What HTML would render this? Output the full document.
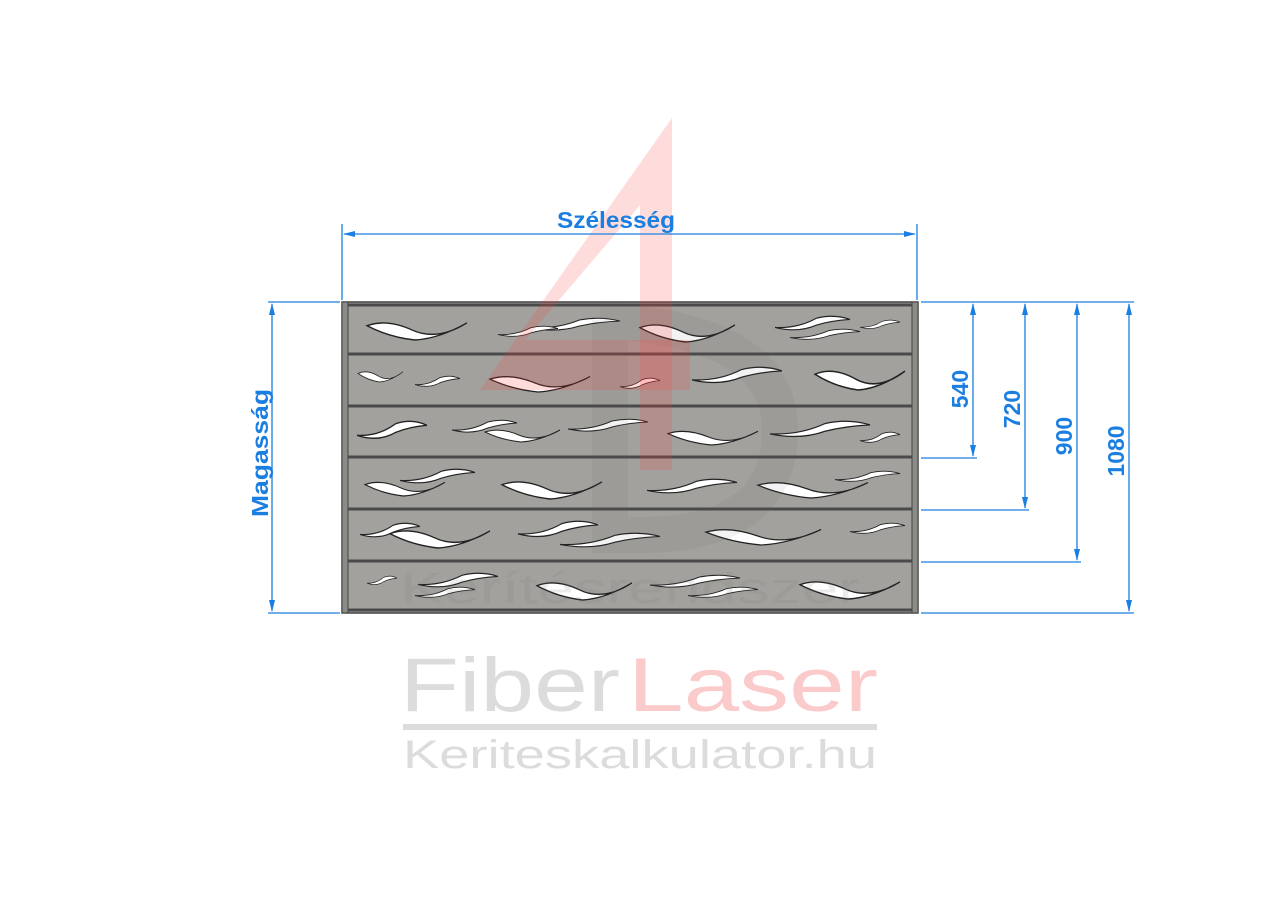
<!DOCTYPE html>
<html><head><meta charset="utf-8"><style>
html,body{margin:0;padding:0;background:#fff;}
svg{display:block;}
</style></head><body>
<svg width="1280" height="905" viewBox="0 0 1280 905" xmlns="http://www.w3.org/2000/svg">
<defs>
<symbol id="w" viewBox="0 0 100 14" overflow="visible" preserveAspectRatio="none">
<path d="M0,4 Q20,-1 45,7 Q70,15 100,2 Q72,13 48,14 Q22,12 0,4Z" fill="#fff" stroke="#222" stroke-width="1"/>
</symbol>
<symbol id="v" viewBox="0 0 100 14" overflow="visible" preserveAspectRatio="none">
<path d="M0,10 Q30,11 55,2 Q78,-2 100,3 Q75,4 55,8 Q30,15 0,10Z" fill="#fff" stroke="#222" stroke-width="1"/>
</symbol>
</defs>
<!-- panel -->
<rect x="342" y="302" width="576" height="311" fill="#a3a19d" stroke="#444" stroke-width="1.5"/>
<rect x="342" y="302" width="6" height="311" fill="#8d8b87" stroke="#444" stroke-width="1"/>
<rect x="912" y="302" width="6" height="311" fill="#8d8b87" stroke="#444" stroke-width="1"/>
<g stroke="#4a4a4a" stroke-width="3">
<line x1="348" y1="354" x2="912" y2="354"/><line x1="348" y1="406" x2="912" y2="406"/>
<line x1="348" y1="457" x2="912" y2="457"/><line x1="348" y1="509" x2="912" y2="509"/>
<line x1="348" y1="561" x2="912" y2="561"/><line x1="348" y1="305" x2="912" y2="305"/>
<line x1="348" y1="610" x2="912" y2="610"/>
</g>
<!-- row1 -->
<use href="#w" x="367" y="320" width="100" height="20"/>
<use href="#v" x="530" y="318" width="90" height="14"/>
<use href="#v" x="498" y="326" width="60" height="12"/>
<use href="#w" x="640" y="322" width="95" height="20"/>
<use href="#v" x="775" y="316" width="75" height="16"/>
<use href="#v" x="860" y="320" width="40" height="10"/>
<use href="#v" x="790" y="329" width="70" height="12"/>
<!-- row2 -->
<use href="#w" x="358" y="370" width="45" height="12"/>
<use href="#v" x="415" y="376" width="45" height="12"/>
<use href="#w" x="490" y="374" width="100" height="18"/>
<use href="#v" x="620" y="378" width="40" height="12"/>
<use href="#v" x="692" y="367" width="90" height="18"/>
<use href="#w" x="815" y="368" width="90" height="22"/>
<!-- row3 -->
<use href="#v" x="357" y="421" width="70" height="20"/>
<use href="#v" x="452" y="420" width="65" height="14"/>
<use href="#w" x="485" y="428" width="75" height="14"/>
<use href="#v" x="568" y="419" width="80" height="14"/>
<use href="#w" x="668" y="429" width="90" height="16"/>
<use href="#v" x="770" y="421" width="100" height="18"/>
<use href="#v" x="860" y="432" width="40" height="12"/>
<!-- row4 -->
<use href="#w" x="365" y="480" width="80" height="16"/>
<use href="#v" x="400" y="469" width="75" height="16"/>
<use href="#w" x="502" y="479" width="100" height="20"/>
<use href="#v" x="647" y="479" width="90" height="16"/>
<use href="#w" x="758" y="480" width="110" height="18"/>
<use href="#v" x="835" y="471" width="65" height="12"/>
<!-- row5 -->
<use href="#v" x="360" y="523" width="60" height="16"/>
<use href="#w" x="390" y="528" width="100" height="20"/>
<use href="#v" x="518" y="521" width="80" height="18"/>
<use href="#v" x="560" y="533" width="100" height="16"/>
<use href="#w" x="706" y="527" width="115" height="18"/>
<use href="#v" x="850" y="523" width="55" height="12"/>
<!-- row6 -->
<use href="#v" x="367" y="576" width="30" height="10"/>
<use href="#v" x="418" y="573" width="80" height="16"/>
<use href="#v" x="415" y="587" width="60" height="12"/>
<use href="#w" x="537" y="580" width="95" height="20"/>
<use href="#v" x="650" y="575" width="90" height="14"/>
<use href="#v" x="688" y="587" width="70" height="12"/>
<use href="#w" x="800" y="579" width="100" height="20"/>
<!-- watermark 4 & D -->
<path d="M600,320 Q780,330 780,430 Q780,535 640,535 L610,535 L610,320Z" fill="none" stroke="rgba(90,90,90,0.08)" stroke-width="36"/>
<path d="M672,118 L672,470 L640,470 L640,390 L480,390 L672,118Z M640,205 L525,340 L640,340Z" fill="rgba(255,60,60,0.18)" fill-rule="evenodd"/>
<path d="M640,340 L690,340 L690,390 L640,390Z" fill="rgba(255,60,60,0.18)"/>
<text x="400" y="603" font-family="Liberation Sans, sans-serif" font-size="44" fill="rgba(120,120,120,0.15)" textLength="460" lengthAdjust="spacingAndGlyphs">Kerítésrendszer</text>
<!-- FiberLaser -->
<text x="400" y="711" font-family="Liberation Sans, sans-serif" font-size="76" fill="#dcdcdc" textLength="220" lengthAdjust="spacingAndGlyphs">Fiber</text>
<text x="628" y="711" font-family="Liberation Sans, sans-serif" font-size="76" fill="#fbcaca" textLength="250" lengthAdjust="spacingAndGlyphs">Laser</text>
<rect x="403" y="724" width="474" height="6" fill="#dcdcdc"/>
<text x="403" y="768" font-family="Liberation Sans, sans-serif" font-size="40" fill="#dcdcdc" textLength="474" lengthAdjust="spacingAndGlyphs">Keriteskalkulator.hu</text>
<!-- dimensions -->
<g stroke="#1a7fe0" stroke-width="1.3" fill="none">
<line x1="342" y1="224" x2="342" y2="300"/><line x1="917" y1="224" x2="917" y2="300"/>
<line x1="344" y1="234" x2="915" y2="234"/>
<line x1="268" y1="302" x2="340" y2="302"/><line x1="268" y1="613" x2="340" y2="613"/>
<line x1="272" y1="304" x2="272" y2="611"/>
<line x1="921" y1="302" x2="1134" y2="302"/><line x1="921" y1="613" x2="1134" y2="613"/>
<line x1="921" y1="458" x2="977" y2="458"/><line x1="921" y1="510" x2="1029" y2="510"/>
<line x1="921" y1="562" x2="1081" y2="562"/>
<line x1="973" y1="304" x2="973" y2="456"/><line x1="1025" y1="304" x2="1025" y2="508"/>
<line x1="1077" y1="304" x2="1077" y2="560"/><line x1="1129" y1="304" x2="1129" y2="611"/>
</g>
<g fill="#1a7fe0">
<path d="M343,234 l12,-3 v6z"/><path d="M916,234 l-12,-3 v6z"/>
<path d="M272,303 l-3,12 h6z"/><path d="M272,612 l-3,-12 h6z"/>
<path d="M973,303 l-3,12 h6z"/><path d="M973,457 l-3,-12 h6z"/>
<path d="M1025,303 l-3,12 h6z"/><path d="M1025,509 l-3,-12 h6z"/>
<path d="M1077,303 l-3,12 h6z"/><path d="M1077,561 l-3,-12 h6z"/>
<path d="M1129,303 l-3,12 h6z"/><path d="M1129,612 l-3,-12 h6z"/>
</g>
<g font-family="Liberation Sans, sans-serif" font-weight="bold" font-size="23" fill="#1a7fe0">
<text x="616" y="228" text-anchor="middle" textLength="118" lengthAdjust="spacingAndGlyphs">Szélesség</text>
<text transform="translate(268,453) rotate(-90)" text-anchor="middle" textLength="128" lengthAdjust="spacingAndGlyphs">Magasság</text>
<text transform="translate(968,389) rotate(-90)" text-anchor="middle">540</text>
<text transform="translate(1020,409) rotate(-90)" text-anchor="middle">720</text>
<text transform="translate(1072,436) rotate(-90)" text-anchor="middle">900</text>
<text transform="translate(1124,451) rotate(-90)" text-anchor="middle">1080</text>
</g>
</svg>
</body></html>
